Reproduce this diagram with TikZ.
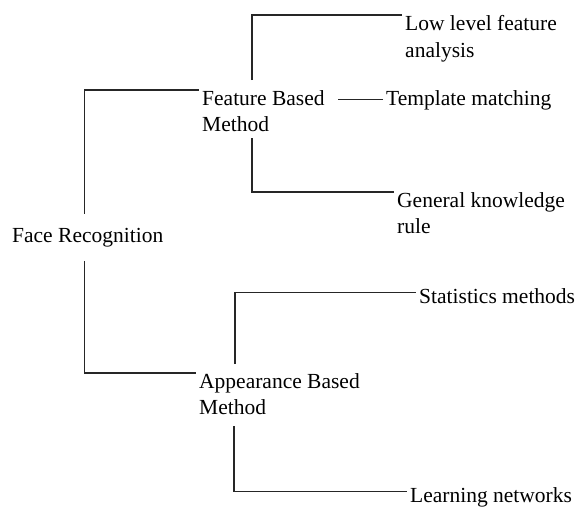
\documentclass[tikz,border=0pt]{standalone}
\usepackage{fontspec}
\setmainfont{Liberation Serif}
\newfontfamily\lblfont{Liberation Serif}
\begin{document}
\begin{tikzpicture}[x=1pt,y=-1pt,
  lbl/.style={inner xsep=3pt,inner ysep=0pt,align=left,
    font=\lblfont\fontsize{21.5}{26.7}\selectfont},
  conn/.style={line width=1.2pt,draw=black!85}]
\useasboundingbox (0,0) rectangle (577,506);
% nodes
\node[lbl,anchor=base west,inner ysep=14pt] (face) at (9,242) {Face Recognition};
\node[lbl,anchor=north west] (feat) at (199,90) {Feature Based\\Method};
\node[lbl,anchor=north west] (app) at (196,373) {Appearance Based\\Method};
\node[lbl,anchor=north west] (low) at (402,15) {Low level feature\\analysis};
\node[lbl,anchor=base west] (tmpl) at (383,105) {Template matching};
\node[lbl,anchor=north west] (gen) at (394,192) {General knowledge\\rule};
\node[lbl,anchor=base west] (stat) at (416,303) {Statistics methods};
\node[lbl,anchor=base west] (learn) at (407,502) {Learning networks};
% connectors
\draw[conn] ([xshift=-3.5pt]face.north) |- (feat.north west);
\draw[conn] ([xshift=-3.5pt]face.south) |- (app.north west);
\draw[conn] ([xshift=53pt,yshift=10pt]feat.north west) |- (low.north west);
\draw[conn] (tmpl.west) -- ([xshift=10pt]tmpl.west -| feat.east);
\draw[conn] ([xshift=53pt,yshift=-6pt]feat.south west) |- (gen.north west);
\draw[conn] ([xshift=39pt,yshift=9pt]app.north west) |- ([yshift=-4.5pt]stat.north west);
\draw[conn] ([xshift=38pt,yshift=-11pt]app.south west) |- ([yshift=-5pt]learn.north west);
\end{tikzpicture}
\end{document}
